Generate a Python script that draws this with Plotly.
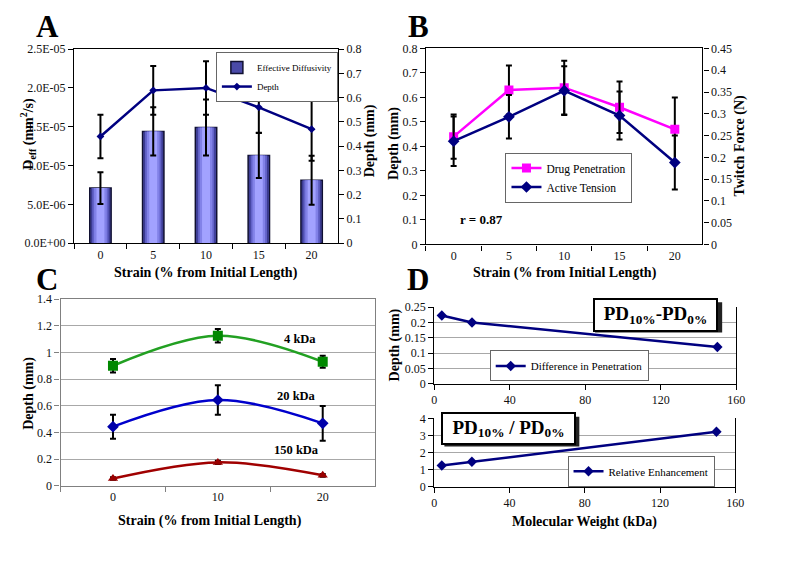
import plotly.graph_objects as go

# ---------------- data ----------------
strain5 = ["0", "5", "10", "15", "20"]
deff = [7.1e-6, 1.44e-5, 1.49e-5, 1.13e-5, 8.1e-6]
deff_err = [2.05e-6, 3.1e-6, 3.6e-6, 2.9e-6, 3.15e-6]
depth = [0.44, 0.63, 0.64, 0.56, 0.47]
depth_err = [0.09, 0.10, 0.11, 0.105, 0.13]
tension = [0.237, 0.293, 0.353, 0.296, 0.188]
tension_err = [0.057, 0.05, 0.056, 0.055, 0.062]

deff_ticks = [0, 5e-6, 1e-5, 1.5e-5, 2e-5, 2.5e-5]
deff_ticktext = ["0.0E+00", "5.0E-06", "1.0E-05", "1.5E-05", "2.0E-05", "2.5E-05"]

strain3 = ["0", "10", "20"]
d4 = [0.90, 1.125, 0.93]
d4_err = [0.05, 0.05, 0.045]
d20 = [0.443, 0.643, 0.468]
d20_err = [0.09, 0.11, 0.13]
d150 = [0.054, 0.175, 0.078]
d150_err = [0.01, 0.012, 0.01]

mw = [4, 20, 150]
diff_pen = [0.223, 0.2, 0.12]
rel_enh = [1.25, 1.47, 3.22]

# ---------------- helpers ----------------
W, H = 800, 564
OFF = 8  # page body margin: the figure is drawn 8 px right and down
FONT = "Times New Roman, Liberation Serif, DejaVu Serif, serif"


def px(x):
    return (x - OFF) / W


def py(y):
    return 1 - (y - OFF) / H


ERR = dict(type="data", color="black", thickness=2, width=3)
tickfont = dict(family=FONT, size=12, color="#111")

fig = go.Figure()

# ---------------- Panel A ----------------
bar_layers = [(0.405, "#4a4aa8", True), (0.36, "#3a3a90", False), (0.31, "#6262c8", False),
              (0.24, "#8282e8", False), (0.15, "#a2a2ff", False)]
for i, (w, c, leg) in enumerate(bar_layers):
    last = i == len(bar_layers) - 1
    fig.add_trace(go.Bar(
        x=strain5, y=deff, width=w, name="Effective Diffusivity",
        marker=dict(color=c, line=dict(color="#101030", width=1.5 if leg else 0)),
        showlegend=leg, legend="legend",
        error_y=dict(array=deff_err, **ERR) if last else None,
        xaxis="x", yaxis="y"))
fig.add_trace(go.Scatter(
    x=strain5, y=depth, name="Depth", mode="lines+markers",
    line=dict(color="#000080", width=2.5),
    marker=dict(symbol="diamond", size=6, color="#000080"),
    error_y=dict(array=depth_err, **ERR),
    legend="legend", xaxis="x", yaxis="y2"))

# ---------------- Panel B ----------------
fig.add_trace(go.Scatter(
    x=strain5, y=depth, name="Drug Penetration", mode="lines+markers",
    line=dict(color="#ff00ff", width=2.5),
    marker=dict(symbol="square", size=9, color="#ff00ff"),
    error_y=dict(array=depth_err, **ERR),
    legend="legend2", xaxis="x2", yaxis="y3"))
fig.add_trace(go.Scatter(
    x=strain5, y=tension, name="Active Tension", mode="lines+markers",
    line=dict(color="#000080", width=2.5),
    marker=dict(symbol="diamond", size=9, color="#000080"),
    error_y=dict(array=tension_err, **ERR),
    legend="legend2", xaxis="x2", yaxis="y4"))

# ---------------- Panel C ----------------
for name, ys, es, col, mcol, sym, sz in [
    ("4 kDa", d4, d4_err, "#22a022", "#008800", "square", 10),
    ("20 kDa", d20, d20_err, "#0000cc", "#0000aa", "diamond", 9),
    ("150 kDa", d150, d150_err, "#a00000", "#990000", "triangle-up", 9),
]:
    fig.add_trace(go.Scatter(
        x=strain3, y=ys, name=name, mode="lines+markers",
        line=dict(color=col, width=2.5, shape="spline", smoothing=1),
        marker=dict(symbol=sym, size=sz, color=mcol),
        error_y=dict(array=es, **ERR), showlegend=False,
        xaxis="x3", yaxis="y5"))

# ---------------- Panel D ----------------
fig.add_trace(go.Scatter(
    x=mw, y=diff_pen, name="Difference in Penetration", mode="lines+markers",
    line=dict(color="#000080", width=2.5),
    marker=dict(symbol="diamond", size=8, color="#000080"),
    legend="legend3", xaxis="x4", yaxis="y6"))
fig.add_trace(go.Scatter(
    x=mw, y=rel_enh, name="Relative Enhancement", mode="lines+markers",
    line=dict(color="#000080", width=2.5),
    marker=dict(symbol="diamond", size=8, color="#000080"),
    legend="legend4", xaxis="x5", yaxis="y7"))

# ---------------- axes ----------------
def box_axis(**kw):
    base = dict(showline=True, linecolor="black", linewidth=1.2, mirror=True,
                ticks="outside", ticklen=5, tickcolor="black", tickfont=tickfont,
                showgrid=False, zeroline=False)
    base.update(kw)
    return base


layout = dict(
    width=W, height=H, autosize=False,
    margin=dict(l=0, r=0, t=0, b=0),
    paper_bgcolor="white", plot_bgcolor="white",
    font=dict(family=FONT),
    barmode="overlay", showlegend=True,
    # A
    xaxis=box_axis(domain=[px(72), px(340)], anchor="y", type="category",
                   tickson="boundaries", range=[-0.5, 4.5]),
    yaxis=box_axis(domain=[py(242), py(43)], anchor="x", range=[0, 2.5e-5],
                   tickvals=deff_ticks, ticktext=deff_ticktext, mirror=False),
    yaxis2=box_axis(overlaying="y", side="right", anchor="x", range=[0, 0.8],
                    dtick=0.1, mirror=False),
    # B
    xaxis2=box_axis(domain=[px(429.3), px(710)], anchor="y3", type="category",
                    tickson="boundaries", range=[-0.5, 4.5]),
    yaxis3=box_axis(domain=[py(243.3), py(42.3)], anchor="x2", range=[0, 0.8],
                    dtick=0.1, mirror=False),
    yaxis4=box_axis(overlaying="y3", side="right", anchor="x2", range=[0, 0.45],
                    dtick=0.05, mirror=False),
    # C
    xaxis3=box_axis(domain=[px(58.3), px(377.7)], anchor="y5", type="category",
                    tickson="boundaries", range=[-0.5, 2.5], linecolor="#808080",
                    tickcolor="#808080"),
    yaxis5=box_axis(domain=[py(490.7), py(299.3)], anchor="x3", range=[0, 1.4],
                    dtick=0.2, linecolor="#808080", tickcolor="#808080",
                    showgrid=True, gridcolor="#a8a8a8", gridwidth=1,
                    tickformat="~g"),
    # D top
    xaxis4=box_axis(domain=[px(437.7), px(744.3)], anchor="y6", range=[0, 160],
                    dtick=40, mirror=False),
    yaxis6=box_axis(domain=[py(386), py(307.7)], anchor="x4", range=[0, 0.25],
                    dtick=0.05, showgrid=True, gridcolor="#a8a8a8", tickformat="~g"),
    # D bottom
    xaxis5=box_axis(domain=[px(437.7), px(743.3)], anchor="y7", range=[0, 160],
                    dtick=40, mirror=False),
    yaxis7=box_axis(domain=[py(492), py(421.7)], anchor="x5", range=[0, 4],
                    dtick=1, showgrid=True, gridcolor="#a8a8a8"),
)

leg_common = dict(bgcolor="white", bordercolor="#666", borderwidth=1,
                  xanchor="left", yanchor="top", itemwidth=30,
                  tracegroupgap=0)
layout["legend"] = dict(x=px(216), y=py(46), font=dict(family=FONT, size=9, color="black"),
                        **leg_common)
layout["legend2"] = dict(x=px(510), y=py(149), font=dict(family=FONT, size=11.5, color="black"),
                         **leg_common)
layout["legend3"] = dict(x=px(494), y=py(352), font=dict(family=FONT, size=11, color="black"),
                         **leg_common)
layout["legend4"] = dict(x=px(573), y=py(460), font=dict(family=FONT, size=11, color="black"),
                         **leg_common)

fig.update_layout(**layout)

# ---------------- annotations (titles, labels) ----------------
ann = []


def text(x, y, t, size=14, bold=True, angle=0, **kw):
    s = f"<b>{t}</b>" if bold else t
    ann.append(dict(x=px(x), y=py(y), xref="paper", yref="paper", text=s,
                    showarrow=False, textangle=angle, xanchor="center", yanchor="middle",
                    font=dict(family=FONT, size=size, color="black"), **kw))


# panel letters
text(45, 20, "A", size=31)
text(421.7, 20, "B", size=31)
text(45, 279.5, "C", size=31)
text(421, 279, "D", size=31)

# A titles
text(25, 130, "D<sub>eff</sub> (mm<sup>2</sup>/s)", size=14, angle=-90)
text(372, 137, "Depth (mm)", size=14, angle=-90)
text(206, 273, "Strain (% from Initial Length)", size=14)
# B titles
text(397, 140, "Depth (mm)", size=14, angle=-90)
text(748.3, 141.7, "Twitch Force (N)", size=14, angle=-90)
text(570, 273, "Strain (% from Initial Length)", size=14)
text(486, 218, "r = 0.87", size=13)
# C titles
text(26.7, 396, "Depth (mm)", size=14, angle=-90)
text(210, 526.7, "Strain (% from Initial Length)", size=14)
text(301.7, 340, "4 kDa", size=12.5)
text(297.7, 398.3, "20 kDa", size=12.5)
text(297.7, 454, "150 kDa", size=12.5)
# D titles
text(398, 346.7, "Depth (mm)", size=14, angle=-90)
text(590, 528.3, "Molecular Weight (kDa)", size=14)

# D formula boxes
for cx, cy, w, h, t in [(662.8, 315.3, 117, 26, "PD<sub>10%</sub>-PD<sub>0%</sub>"),
                        (513.5, 432.5, 127, 25, "PD<sub>10%</sub> / PD<sub>0%</sub>")]:
    ann.append(dict(x=px(cx), y=py(cy), xref="paper", yref="paper",
                    text=f"<b>{t}</b>", showarrow=False, xanchor="center", yanchor="middle",
                    width=w, height=h, align="center", valign="middle",
                    bgcolor="white", bordercolor="black", borderwidth=2, borderpad=2,
                    font=dict(family=FONT, size=19, color="black")))

fig.update_layout(annotations=ann)

# shadows for formula boxes
shapes = []
for x0, y0, x1, y1 in [(601, 302.5, 730, 333.5), (448, 420, 585, 450.5)]:
    shapes.append(dict(type="rect", xref="paper", yref="paper",
                       x0=px(x0), x1=px(x1), y0=py(y1), y1=py(y0),
                       fillcolor="#222", line=dict(width=0), layer="above"))
fig.update_layout(shapes=shapes)

fig.write_html("out.html")
